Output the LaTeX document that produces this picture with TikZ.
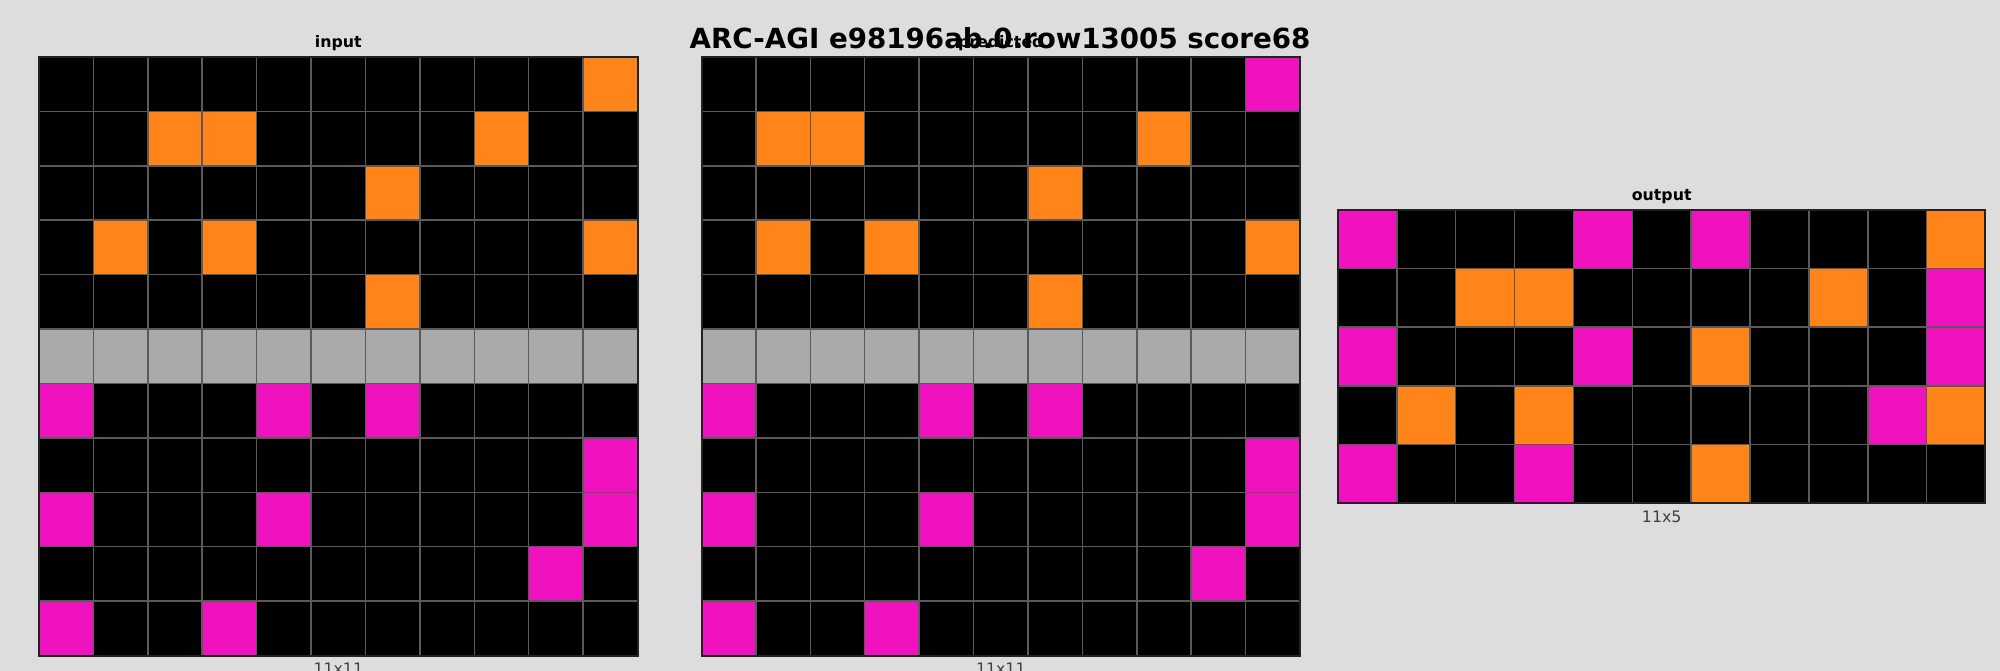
\documentclass[tikz,border=0pt]{standalone}
\usepackage{fontspec}
\setmainfont{DejaVu Sans}
\definecolor{bg}{HTML}{DDDDDD}
\definecolor{cK}{HTML}{000000}
\definecolor{cO}{HTML}{FF851B}
\definecolor{cM}{HTML}{F012BE}
\definecolor{cG}{HTML}{AAAAAA}
\definecolor{gridline}{HTML}{5A5A5A}
\definecolor{gridborder}{HTML}{222222}
\definecolor{sizelbl}{HTML}{404040}
\tikzset{
  panellabel/.style={anchor=base, font=\bfseries\fontsize{15.8}{18}\selectfont, text=black, inner sep=0pt},
  sizelabel/.style={anchor=base, font=\fontsize{15.8}{18}\selectfont, text=sizelbl, inner sep=0pt},
  cellline/.style={draw=gridline, line width=1.5pt},
  outerline/.style={draw=gridborder, line width=2pt},
}
% x0, y0, cell w, cell h, ncols, nrows, data
\newcommand\arcgrid[7]{%
  \foreach \rowdata [count=\r from 0] in {#7} {
    \foreach \cc [count=\c from 0] in \rowdata {
      \fill[fill=c\cc] ({#1+\c*#3},{#2+\r*#4}) rectangle ++(#3,#4);
    }
  }
  \foreach \i in {1,...,\numexpr#5-1\relax}
    \draw[cellline] ({#1+\i*#3},#2) -- ++(0,{#6*#4});
  \foreach \j in {1,...,\numexpr#6-1\relax}
    \draw[cellline] (#1,{#2+\j*#4}) -- ++({#5*#3},0);
  \draw[outerline] (#1,#2) rectangle ++({#5*#3},{#6*#4});
}
\begin{document}
\begin{tikzpicture}[x=1pt,y=-1pt]
\useasboundingbox (0,0) rectangle (2000,671);
\clip (0,0) rectangle (2000,671);
\fill[bg] (0,0) rectangle (2000,671);

% input grid
\arcgrid{39}{57}{54.41}{54.41}{11}{11}{
 {K,K,K,K,K,K,K,K,K,K,O},
 {K,K,O,O,K,K,K,K,O,K,K},
 {K,K,K,K,K,K,O,K,K,K,K},
 {K,O,K,O,K,K,K,K,K,K,O},
 {K,K,K,K,K,K,O,K,K,K,K},
 {G,G,G,G,G,G,G,G,G,G,G},
 {M,K,K,K,M,K,M,K,K,K,K},
 {K,K,K,K,K,K,K,K,K,K,M},
 {M,K,K,K,M,K,K,K,K,K,M},
 {K,K,K,K,K,K,K,K,K,M,K},
 {M,K,K,M,K,K,K,K,K,K,K}}

% predicted grid
\arcgrid{701.5}{57}{54.41}{54.41}{11}{11}{
 {K,K,K,K,K,K,K,K,K,K,M},
 {K,O,O,K,K,K,K,K,O,K,K},
 {K,K,K,K,K,K,O,K,K,K,K},
 {K,O,K,O,K,K,K,K,K,K,O},
 {K,K,K,K,K,K,O,K,K,K,K},
 {G,G,G,G,G,G,G,G,G,G,G},
 {M,K,K,K,M,K,M,K,K,K,K},
 {K,K,K,K,K,K,K,K,K,K,M},
 {M,K,K,K,M,K,K,K,K,K,M},
 {K,K,K,K,K,K,K,K,K,M,K},
 {M,K,K,M,K,K,K,K,K,K,K}}

% output grid
\arcgrid{1338}{210}{58.86}{58.6}{11}{5}{
 {M,K,K,K,M,K,M,K,K,K,O},
 {K,K,O,O,K,K,K,K,O,K,M},
 {M,K,K,K,M,K,O,K,K,K,M},
 {K,O,K,O,K,K,K,K,K,M,O},
 {M,K,K,M,K,K,O,K,K,K,K}}

\node[panellabel] (lblin) at (338.3,48) {input};
\node[panellabel] (lblpred) at (1000.8,48) {predicted};
\node[panellabel] (lblout) at (1661.7,201) {output};
\node[sizelabel] (szin) at (338.3,674.5) {11x11};
\node[sizelabel] (szpred) at (1000.8,674.5) {11x11};
\node[sizelabel] (szout) at (1661.7,522) {11x5};
\node[anchor=base, inner sep=0pt, font=\bfseries\fontsize{27.7}{32}\selectfont] (title) at (1000,48.5) {ARC-AGI e98196ab.0.row13005 score68};
\end{tikzpicture}
\end{document}
